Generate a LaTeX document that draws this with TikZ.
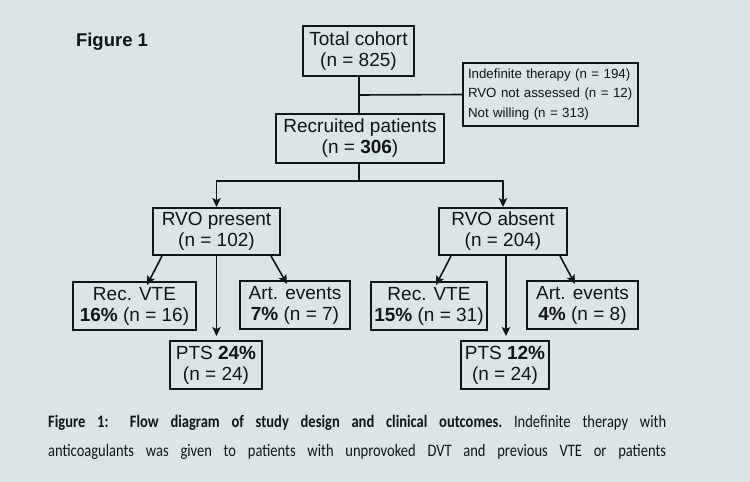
\documentclass[tikz,border=0pt]{standalone}
\usepackage{fontspec}
\setmainfont{Liberation Sans}
\newfontfamily\capfont[FakeStretch=0.83]{Carlito}
\usetikzlibrary{arrows.meta}
\definecolor{bg}{HTML}{DAE5E8}
\definecolor{ink}{HTML}{141414}
\begin{document}
\begin{tikzpicture}[x=1pt,y=-1pt,
  box/.style={draw=ink,line width=2pt,fill=bg,inner sep=0pt,align=center,text=ink,font=\fontsize{19}{21}\selectfont},
  conn/.style={draw=ink,line width=1.6pt},
  arr/.style={conn,-{Stealth[length=9pt,width=8.5pt,inset=2pt]}}]
\fill[bg] (0,0) rectangle (750,482);
\useasboundingbox (0,0) rectangle (750,482);
\node[text=ink,font=\fontsize{18.5}{20}\selectfont\bfseries] (fig) at (112,42) {Figure 1};
\node[box,minimum width=111pt,minimum height=50pt] (tot) at (358.5,51) {Total cohort\\(n = 825)};
\node[box,minimum width=175pt,minimum height=63pt,align=left,text width=165pt,inner xsep=5pt,font=\fontsize{13.3}{19.5}\selectfont] (side) at (550.5,94.5)
  {Indefinite therapy (n = 194)\\RVO not assessed (n = 12)\\Not willing (n = 313)};
\node[box,minimum width=168pt,minimum height=49pt] (rec) at (360,138.5) {Recruited patients\\(n = \textbf{306})};
\node[box,minimum width=127pt,minimum height=47pt] (pres) at (216.5,231.5) {RVO present\\(n = 102)};
\node[box,minimum width=128pt,minimum height=47pt] (abs) at (503,231.5) {RVO absent\\(n = 204)};
\node[box,minimum width=123pt,minimum height=48pt] (recl) at (134.5,306) {Rec. VTE\\\textbf{16\%} (n = 16)};
\node[box,minimum width=110pt,minimum height=48pt] (artl) at (295,305) {Art. events\\\textbf{7\%} (n = 7)};
\node[box,minimum width=92pt,minimum height=48pt] (ptsl) at (216,365) {PTS \textbf{24\%}\\(n = 24)};
\node[box,minimum width=116pt,minimum height=48pt] (recr) at (429,306) {Rec. VTE\\\textbf{15\%} (n = 31)};
\node[box,minimum width=111pt,minimum height=48pt] (artr) at (582.5,305) {Art. events\\\textbf{4\%} (n = 8)};
\node[box,minimum width=88pt,minimum height=48pt] (ptsr) at (505,365) {PTS \textbf{12\%}\\(n = 24)};
\coordinate (j1) at (359,95);
\coordinate (j2) at (359,181);
\draw[conn] (tot.south -| j1) -- (rec.north -| j1);
\draw[conn] (j1) -- (side.west);
\draw[conn] (rec.south -| j2) -- (j2);
\draw[arr] (j2) -| (pres.north);
\draw[arr] (j2) -| (abs.north);
\draw[arr] ([xshift=-54.5pt]pres.south) -- ([xshift=12.5pt,yshift=-4pt]recl.north);
\draw[arr] ([xshift=54.5pt]pres.south) -- ([xshift=-8pt,yshift=-4pt]artl.north);
\draw[arr,shorten >=4pt] (pres.south) -- (pres.south |- ptsl.north);
\draw[arr] ([xshift=-52pt]abs.south) -- ([xshift=7pt,yshift=-4pt]recr.north);
\draw[arr] ([xshift=57pt]abs.south) -- ([xshift=-7.5pt,yshift=-4pt]artr.north);
\draw[arr,shorten >=4pt] ([xshift=3pt]abs.south) -- ([xshift=3pt]abs.south |- ptsr.north);
\node[anchor=west,text=ink,inner sep=0pt,font=\capfont\fontsize{17.5}{20}\selectfont] (cap1) at (48,423)
  {\makebox[618pt][s]{\makebox[454pt][s]{\textbf{Figure 1: Flow diagram of study design and clinical outcomes.}} Indefinite therapy with}};
\node[anchor=west,text=ink,inner sep=0pt,font=\capfont\fontsize{17.5}{20}\selectfont] (cap2) at (48,452)
  {\makebox[618pt][s]{anticoagulants was given to patients with unprovoked DVT and previous VTE or patients}};
\end{tikzpicture}
\end{document}
